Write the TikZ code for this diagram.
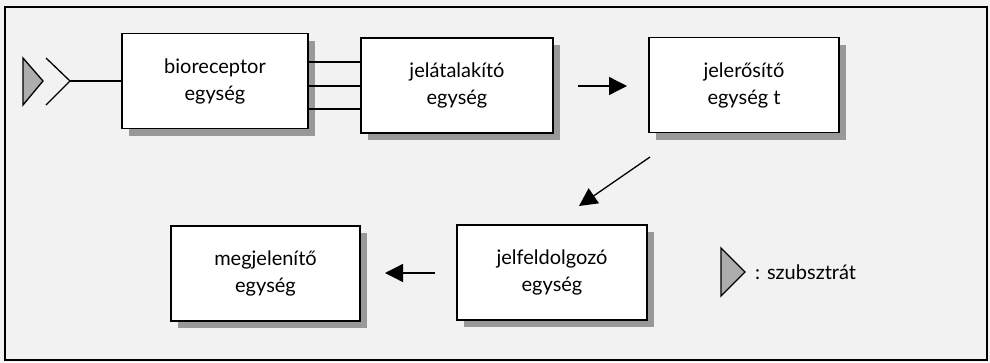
\documentclass[tikz,border=0pt]{standalone}
\usepackage{fontspec}
\setmainfont{Lato}
\usetikzlibrary{arrows.meta,shadows}
\definecolor{bg}{gray}{0.95}
\definecolor{subfill}{gray}{0.68}
\begin{document}
\begin{tikzpicture}[x=1pt,y=-1pt,
  unitbox/.style={draw=black, line width=1.3pt, fill=white, align=center,
    minimum width=#1, minimum height=95pt, inner sep=0pt,
    font=\fontsize{20}{27}\selectfont,
    drop shadow={shadow xshift=7pt, shadow yshift=-7pt, fill=gray!80, opacity=1}},
  unitbox/.default=190pt,
  link/.style={line width=1.3pt},
  flow/.style={line width=1.3pt, -{Triangle[length=18pt,width=18pt]}},
  subst/.style={draw=black, line width=1.3pt, fill=subfill, line join=miter}]
\useasboundingbox (0,0) rectangle (990,362);
\fill[bg] (0,0) rectangle (990,362);
\draw[line width=1.6pt] (5,7) rectangle (987,360);

\node[unitbox=186pt] (bio) at (215,81) {bioreceptor\\egység};
\node[unitbox=192pt] (jat) at (457,85.5) {jelátalakító\\egység};
\node[unitbox=190pt] (jer) at (744,85) {jelerősítő\\egység t};
\node[unitbox=189pt] (meg) at (265.5,273.5) {megjelenítő\\egység};
\node[unitbox=190pt] (jfd) at (552,272.5) {jelfeldolgozó\\egység};

% input substrate and receptor
\draw[subst] (23,58) -- (43,81) -- (23,105) -- cycle;
\coordinate (chev) at (70,81);
\draw[link] (46,58) -- (chev) -- (46,105);
\draw[link] (chev) -- (bio.west);

% three links
\foreach \yy in {62,86,109}
  \draw[link] (bio.east |- 0,\yy) -- (jat.west |- 0,\yy);

% flow arrows
\coordinate (a1s) at (578,86); \coordinate (a1e) at (627,86);
\draw[flow] (a1s) -- (a1e);
\coordinate (a2s) at (650,157); \coordinate (a2e) at (579,206);
\draw[flow] (a2s) -- (a2e);
\coordinate (a3s) at (435,273); \coordinate (a3e) at (385,273);
\draw[flow] (a3s) -- (a3e);

% legend
\draw[subst] (721,248) -- (745,272) -- (721,296) -- cycle;
\node[anchor=west, inner sep=0pt, font=\fontsize{20}{24}\selectfont] (leg) at (755,272) {: szubsztrát};
\end{tikzpicture}
\end{document}
